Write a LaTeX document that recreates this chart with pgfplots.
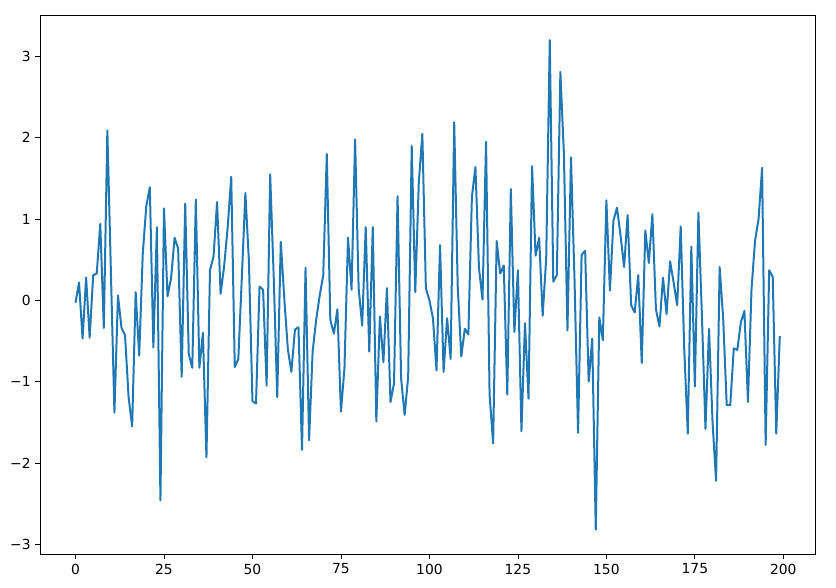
\documentclass[border=0pt]{standalone}
\usepackage{pgfplots}
\pgfplotsset{compat=1.18}
\usepackage{fontspec}
\setmainfont{DejaVu Sans}
\definecolor{tabblue}{HTML}{1F77B4}
\begin{document}
\fontsize{10.4}{12}\selectfont
\begin{tikzpicture}
\begin{axis}[
  scale only axis,
  width=581pt, height=404.25pt,
  xmin=-9.95, xmax=208.95,
  ymin=-3.12, ymax=3.51,
  xtick={0,25,...,200},
  ytick={-3,-2,-1,0,1,2,3},
  yticklabels={−3,−2,−1,0,1,2,3},
  /pgf/number format/assume math mode=true,
  tick align=outside,
  major tick length=3.6pt,
  tick style={black, line width=0.6pt},
  xtick pos=bottom, ytick pos=left,
  axis line style={line width=0.6pt},
  ticklabel style={font=\fontsize{10.4}{12}\selectfont},
  clip=false,
]
\addplot[tabblue, line width=1.5pt, line join=round] coordinates {
(0,-0.03) (1,0.22) (2,-0.47) (3,0.28) (4,-0.46) (5,0.31) (6,0.33) (7,0.94) (8,-0.34) (9,2.09)
(10,0.35) (11,-1.38) (12,0.06) (13,-0.34) (14,-0.43) (15,-1.19) (16,-1.55) (17,0.10) (18,-0.68) (19,0.57)
(20,1.16) (21,1.39) (22,-0.58) (23,0.90) (24,-2.46) (25,1.13) (26,0.05) (27,0.27) (28,0.77) (29,0.64)
(30,-0.94) (31,1.19) (32,-0.66) (33,-0.83) (34,1.24) (35,-0.83) (36,-0.40) (37,-1.93) (38,0.37) (39,0.54)
(40,1.21) (41,0.08) (42,0.42) (43,0.90) (44,1.52) (45,-0.82) (46,-0.72) (47,0.28) (48,1.32) (49,0.48)
(50,-1.24) (51,-1.27) (52,0.17) (53,0.13) (54,-1.05) (55,1.55) (56,0.30) (57,-1.19) (58,0.72) (59,0.02)
(60,-0.60) (61,-0.88) (62,-0.36) (63,-0.33) (64,-1.84) (65,0.40) (66,-1.72) (67,-0.63) (68,-0.24) (69,0.06)
(70,0.31) (71,1.80) (72,-0.24) (73,-0.41) (74,-0.11) (75,-1.37) (76,-0.83) (77,0.77) (78,0.13) (79,1.98)
(80,0.15) (81,-0.31) (82,0.90) (83,-0.63) (84,0.90) (85,-1.49) (86,-0.20) (87,-0.76) (88,0.15) (89,-1.25)
(90,-1.02) (91,1.28) (92,-0.96) (93,-1.41) (94,-0.94) (95,1.90) (96,0.10) (97,1.45) (98,2.05) (99,0.15)
(100,0.00) (101,-0.22) (102,-0.86) (103,0.68) (104,-0.88) (105,-0.22) (106,-0.72) (107,2.19) (108,0.17) (109,-0.69)
(110,-0.35) (111,-0.42) (112,1.27) (113,1.64) (114,0.40) (115,0.01) (116,1.95) (117,-1.16) (118,-1.76) (119,0.73)
(120,0.33) (121,0.43) (122,-1.16) (123,1.37) (124,-0.39) (125,0.37) (126,-1.61) (127,-0.28) (128,-1.21) (129,1.65)
(130,0.55) (131,0.77) (132,-0.19) (133,0.52) (134,3.20) (135,0.23) (136,0.31) (137,2.81) (138,1.80) (139,-0.37)
(140,1.76) (141,0.25) (142,-1.63) (143,0.56) (144,0.61) (145,-1.00) (146,-0.47) (147,-2.82) (148,-0.21) (149,-0.49)
(150,1.23) (151,0.12) (152,0.98) (153,1.14) (154,0.80) (155,0.41) (156,1.05) (157,-0.06) (158,-0.15) (159,0.31)
(160,-0.77) (161,0.86) (162,0.46) (163,1.06) (164,-0.11) (165,-0.32) (166,0.28) (167,-0.17) (168,0.48) (169,0.22)
(170,-0.06) (171,0.91) (172,-0.60) (173,-1.64) (174,0.66) (175,-1.06) (176,1.08) (177,-0.20) (178,-1.58) (179,-0.35)
(180,-1.50) (181,-2.22) (182,0.41) (183,-0.22) (184,-1.29) (185,-1.29) (186,-0.59) (187,-0.61) (188,-0.27) (189,-0.13)
(190,-1.25) (191,0.13) (192,0.73) (193,1.00) (194,1.63) (195,-1.78) (196,0.37) (197,0.29) (198,-1.64) (199,-0.44)
};
\path[use as bounding box] (rel axis cs:-0.052,-0.0612) rectangle (rel axis cs:1.0271,1.0278);
\end{axis}
\end{tikzpicture}
\end{document}
